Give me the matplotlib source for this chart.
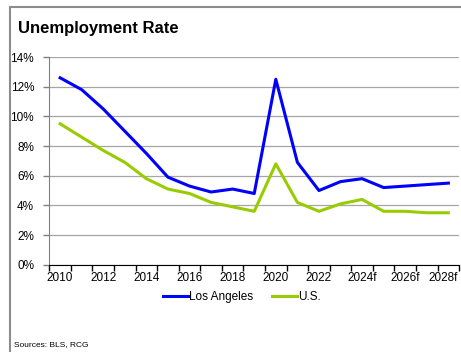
import matplotlib
matplotlib.use('Agg')
import matplotlib.pyplot as plt
from matplotlib.lines import Line2D
from matplotlib.transforms import ScaledTranslation

# Annual unemployment rate (%), forecasts from 2024 on
years = list(range(2010, 2029))
la_rate = [12.6, 11.8, 10.5, 9.0, 7.5, 5.9, 5.3, 4.9, 5.1, 4.8,
           12.5, 6.9, 5.0, 5.6, 5.8, 5.2, 5.3, 5.4, 5.5]
us_rate = [9.5, 8.6, 7.7, 6.9, 5.8, 5.1, 4.8, 4.2, 3.9, 3.6,
           6.8, 4.2, 3.6, 4.1, 4.4, 3.6, 3.6, 3.5, 3.5]
year_labels = ['2010', '2012', '2014', '2016', '2018', '2020', '2022',
               '2024f', '2026f', '2028f']
y_ticks = [0, 2, 4, 6, 8, 10, 12, 14]

FONT = ['Liberation Sans Narrow', 'Liberation Sans', 'DejaVu Sans']
plt.rcParams['font.family'] = FONT
LABEL_SIZE = 8.5

fig = plt.figure(figsize=(4.61, 3.52), dpi=100)
ax = fig.add_axes([0.107, 0.248, 0.889, 0.590])

x = list(range(len(years)))
ax.plot(x, la_rate, color='#0000ff', lw=2.2, label='Los Angeles', solid_joinstyle='round')
ax.plot(x, us_rate, color='#99cc00', lw=2.2, label='U.S.', solid_joinstyle='round')

ax.set_xlim(-0.5, len(years) - 0.5)
ax.set_ylim(0, 14)
ax.set_yticks(y_ticks)
ax.set_yticklabels([f'{v}%' for v in y_ticks])

# category axis: ticks on boundaries, labels at every other category
ax.set_xticks([i - 0.5 for i in range(len(years) + 1)])
ax.set_xticklabels([])
ax.set_xticks(x[::2], minor=True)
ax.set_xticklabels(year_labels, minor=True)
ax.tick_params(axis='x', which='major', length=4, width=1, color='black', direction='out')
ax.tick_params(axis='x', which='minor', length=0, pad=5.5, labelsize=LABEL_SIZE)
ax.tick_params(axis='y', length=4, width=1, color='#808080', direction='out', pad=7,
               labelsize=LABEL_SIZE)

# keep the last year label inside the figure
last = ax.get_xticklabels(minor=True)[-1]
last.set_transform(last.get_transform() + ScaledTranslation(-5 / 100, 0, fig.dpi_scale_trans))

ax.grid(axis='y', color='#a6a6a6', lw=0.9)
ax.set_axisbelow(True)
for s in ['top', 'right']:
    ax.spines[s].set_visible(False)
ax.spines['left'].set_color('#808080')
ax.spines['bottom'].set_color('black')
ax.spines['bottom'].set_zorder(3)

fig.legend(loc='center', bbox_to_anchor=(242 / 461, 1 - 297 / 352), ncol=2,
           frameon=False, fontsize=LABEL_SIZE, handlelength=2.1, handletextpad=0.1,
           columnspacing=1.6)

fig.text(18 / 461, 1 - 33 / 352, 'Unemployment Rate', fontsize=12,
         fontweight='bold', va='baseline', ha='left')
fig.text(14 / 461, 1 - 346 / 352, 'Sources: BLS, RCG', fontsize=6,
         va='baseline', ha='left')

# outer frame
fig.add_artist(Line2D([10 / 461, 10 / 461], [0, 1 - 6.5 / 352], color='#8c8c8c', lw=1.5,
                      transform=fig.transFigure))
fig.add_artist(Line2D([10 / 461, 1], [1 - 6.5 / 352, 1 - 6.5 / 352], color='#8c8c8c', lw=1.5,
                      transform=fig.transFigure))

fig.savefig('out.png', dpi=100)
